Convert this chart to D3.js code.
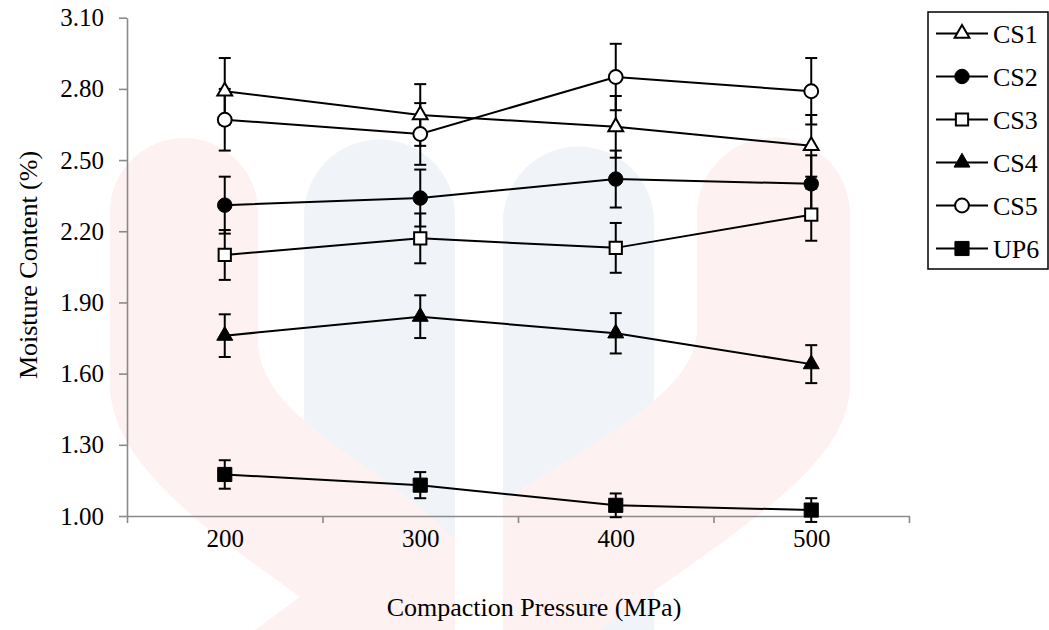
<!DOCTYPE html>
<html>
<head>
<meta charset="utf-8">
<script src="https://cdn.jsdelivr.net/npm/d3@7"></script>
<style>
  body { margin: 0; background: #fff; }
  svg text { font-family: "Times New Roman", "Liberation Serif", "DejaVu Serif", serif; }
</style>
</head>
<body>
<div id="chart"></div>
<script>
// chart data
var pressures = [200, 300, 400, 500];
var seriesNames = ["CS1", "CS2", "CS3", "CS4", "CS5", "UP6"];
var cs1 = [2.79, 2.69, 2.64, 2.56];
var cs2 = [2.31, 2.34, 2.42, 2.40];
var cs3 = [2.10, 2.17, 2.13, 2.27];
var cs4 = [1.76, 1.84, 1.77, 1.64];
var cs5 = [2.67, 2.61, 2.85, 2.79];
var up6 = [1.175, 1.13, 1.045, 1.025];
var cs1Err = [0.14, 0.13, 0.13, 0.13];
var cs2Err = [0.12, 0.12, 0.12, 0.12];
var cs3Err = [0.105, 0.105, 0.105, 0.11];
var cs4Err = [0.09, 0.09, 0.085, 0.08];
var cs5Err = [0.13, 0.13, 0.14, 0.14];
var up6Err = [0.06, 0.055, 0.05, 0.05];
var yTicks = [1.00, 1.30, 1.60, 1.90, 2.20, 2.50, 2.80, 3.10];
var xCategoryEdges = [150, 250, 350, 450, 550];

var width = 1049, height = 630;
var serif = "'Times New Roman', 'Liberation Serif', 'DejaVu Serif', serif";

// marker type for each series
var symbols = [
  {type: d3.symbolTriangle, size: 95, filled: false},
  {type: d3.symbolCircle, size: 165, filled: true},
  {type: d3.symbolSquare, size: 150, filled: false},
  {type: d3.symbolTriangle, size: 110, filled: true},
  {type: d3.symbolCircle, size: 150, filled: false},
  {type: d3.symbolSquare, size: 200, filled: true}
];
var values = [cs1, cs2, cs3, cs4, cs5, up6];
var errors = [cs1Err, cs2Err, cs3Err, cs4Err, cs5Err, up6Err];

var series = seriesNames.map(function (name, i) {
  return {
    name: name,
    sym: symbols[i],
    points: pressures.map(function (p, j) {
      return {x: p, y: values[i][j], e: errors[i][j]};
    })
  };
});

var svg = d3.select("#chart").append("svg")
    .attr("width", width)
    .attr("height", height);

// faint watermark behind the plot
var wm = svg.append("g");
wm.append("path")
  .attr("d", "M304,630 L304,215 A75.5,75.5 0 0 1 455,215 L455,630 Z")
  .attr("fill", "#f0f4f8");
wm.append("path")
  .attr("d", "M503,630 L503,222 A75.5,75.5 0 0 1 654,222 L654,630 Z")
  .attr("fill", "#f0f4f8");
wm.append("path")
  .attr("d", "M110,212 A74,74 0 0 1 258,212 L258,340 C258,420 380,460 455,540 L455,630 L255,630 L300,597 C230,545 110,470 110,385 Z")
  .attr("fill", "#fdf1f1");
wm.append("path")
  .attr("d", "M697,214 A76.5,76.5 0 0 1 850,214 L850,385 C850,470 720,540 600,630 L503,630 L503,500 C600,440 697,390 697,330 Z")
  .attr("fill", "#fdf1f1");

// scales
var x = d3.scaleLinear().domain([150, 550]).range([127, 909]);
var y = d3.scaleLinear().domain([1.0, 3.1]).range([516, 17.7]);

var axisColor = "#8a8a8a";

// y axis
var yAxis = svg.append("g")
    .attr("transform", "translate(127,0)")
    .call(d3.axisLeft(y).tickValues(yTicks).tickSize(8).tickSizeOuter(0)
      .tickPadding(15).tickFormat(d3.format(".2f")));

// x axis tick marks at category edges
var xAxis = svg.append("g")
    .attr("transform", "translate(0,516)")
    .call(d3.axisBottom(x).tickValues(xCategoryEdges).tickSize(7).tickSizeOuter(0)
      .tickFormat(""));

// x labels at category centres
var xLabels = svg.append("g")
    .attr("transform", "translate(0,516)")
    .call(d3.axisBottom(x).tickValues(pressures).tickSize(0).tickPadding(13)
      .tickFormat(d3.format("d")));
xLabels.select(".domain").remove();

[yAxis, xAxis, xLabels].forEach(function (g) {
  g.attr("font-family", serif).attr("font-size", 25);
  g.selectAll("path, line").attr("stroke", axisColor).attr("stroke-width", 1.6);
  g.selectAll("text").attr("fill", "#000");
});

// axis titles
svg.append("text")
  .attr("x", 534).attr("y", 616)
  .attr("text-anchor", "middle")
  .attr("font-family", serif)
  .attr("font-size", 26)
  .text("Compaction Pressure (MPa)");

svg.append("text")
  .attr("transform", "translate(37,265) rotate(-90)")
  .attr("text-anchor", "middle")
  .attr("font-family", serif)
  .attr("font-size", 26)
  .text("Moisture Content (%)");

// error bars first
var errG = svg.append("g");
series.forEach(function (s) {
  var g = errG.append("g");
  g.selectAll("line.v").data(s.points).enter().append("line")
    .attr("x1", function (d) { return x(d.x); })
    .attr("x2", function (d) { return x(d.x); })
    .attr("y1", function (d) { return y(d.y + d.e); })
    .attr("y2", function (d) { return y(d.y - d.e); })
    .attr("stroke", "#000").attr("stroke-width", 2);
  [1, -1].forEach(function (sign) {
    g.selectAll("line.cap" + sign).data(s.points).enter().append("line")
      .attr("x1", function (d) { return x(d.x) - 6; })
      .attr("x2", function (d) { return x(d.x) + 6; })
      .attr("y1", function (d) { return y(d.y + sign * d.e); })
      .attr("y2", function (d) { return y(d.y + sign * d.e); })
      .attr("stroke", "#000").attr("stroke-width", 2);
  });
});

// lines
var line = d3.line()
  .x(function (d) { return x(d.x); })
  .y(function (d) { return y(d.y); });

svg.append("g").selectAll("path").data(series).enter().append("path")
  .attr("d", function (s) { return line(s.points); })
  .attr("fill", "none")
  .attr("stroke", "#000")
  .attr("stroke-width", 2);

// markers
function drawMarker(sel, sym) {
  sel.attr("d", d3.symbol().type(sym.type).size(sym.size)())
    .attr("fill", sym.filled ? "#000" : "#fff")
    .attr("stroke", "#000")
    .attr("stroke-width", sym.filled ? 1 : 2);
}

series.forEach(function (s) {
  svg.append("g").selectAll("path").data(s.points).enter().append("path")
    .attr("transform", function (d) { return "translate(" + x(d.x) + "," + y(d.y) + ")"; })
    .call(drawMarker, s.sym);
});

// legend
var legend = svg.append("g");
legend.append("rect")
  .attr("x", 928).attr("y", 12)
  .attr("width", 120).attr("height", 257)
  .attr("fill", "#fff")
  .attr("stroke", "#000")
  .attr("stroke-width", 1.5);

var item = legend.selectAll("g.item").data(series).enter().append("g")
  .attr("transform", function (d, i) { return "translate(0," + (33.5 + i * 43) + ")"; });

item.append("line")
  .attr("x1", 936).attr("x2", 988)
  .attr("stroke", "#000").attr("stroke-width", 2);

item.each(function (s) {
  d3.select(this).append("path")
    .attr("transform", "translate(962,0)")
    .call(drawMarker, s.sym);
});

item.append("text")
  .attr("x", 993).attr("y", 9)
  .attr("font-family", serif)
  .attr("font-size", 26)
  .text(function (d) { return d.name; });
</script>
</body>
</html>
